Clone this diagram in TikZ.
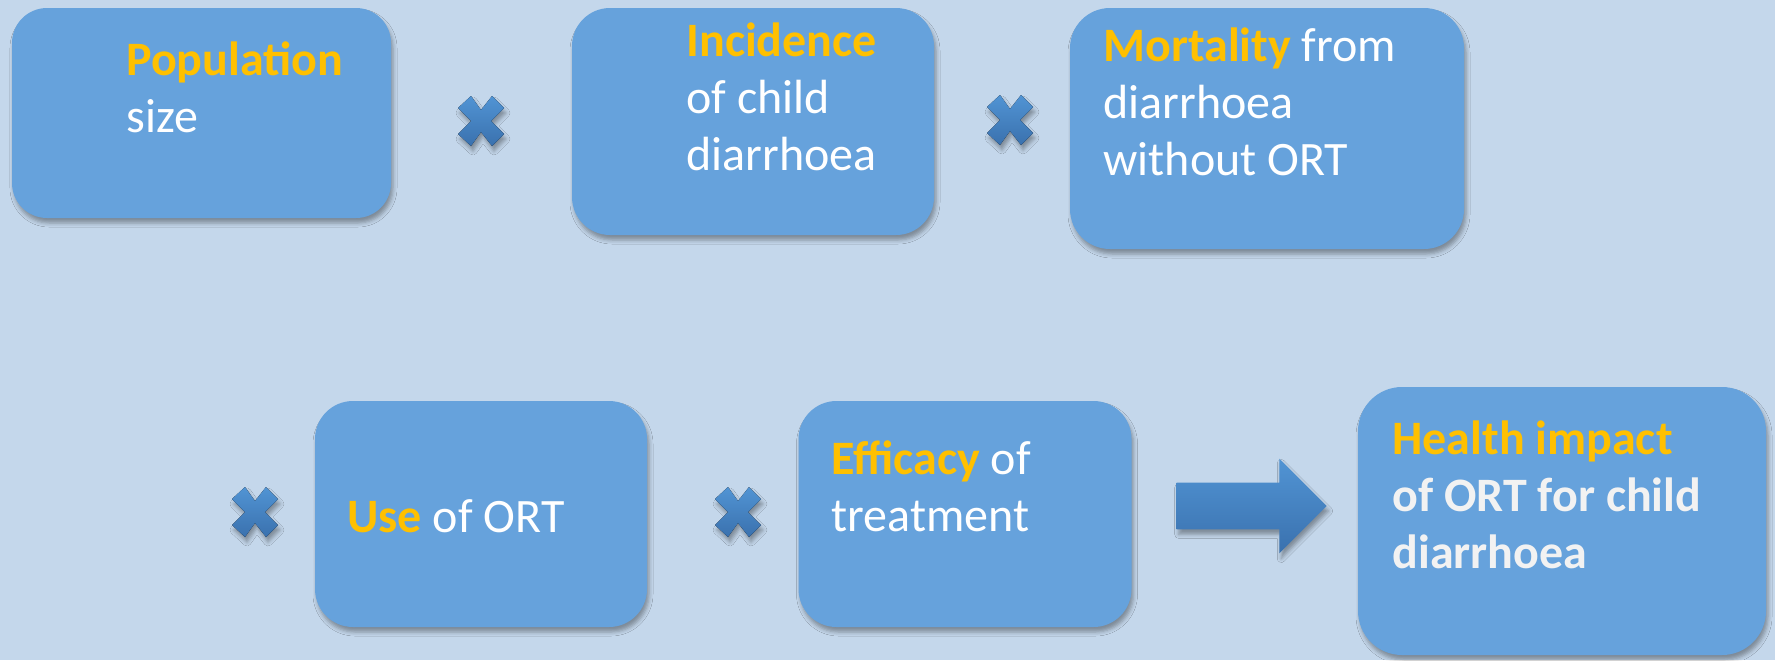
\documentclass[tikz,border=0pt]{standalone}
\usepackage{fontspec}
\setmainfont{Carlito}
\usetikzlibrary{shapes.arrows,shadows.blur}
\definecolor{bg}{HTML}{C4D7EB}
\definecolor{boxblue}{HTML}{66A2DC}
\definecolor{gold}{HTML}{FFC000}
\definecolor{marktop}{HTML}{5194D4}
\definecolor{markbot}{HTML}{3A71AE}
\definecolor{softwhite}{HTML}{F2F2F2}
\newcommand\keyword[1]{\textbf{\textcolor{gold}{#1}}}

\begin{document}
\begin{tikzpicture}[x=0.5pt,y=-0.5pt,
  softshadow/.style={blur shadow={shadow xshift=1pt,shadow yshift=-2.5pt,
      shadow blur radius=2pt,shadow opacity=35}},
  factor/.style={rectangle,fill=boxblue,draw=none,rounded corners=#1,softshadow},
  caption/.style={inner sep=0pt,anchor=base west,align=left,text=white,
      font=\fontsize{24}{28.5}\selectfont},
  times/.pic={
    \fill[top color=marktop,bottom color=markbot,softshadow]
      (-23,-13) -- (-10,-25) -- (0,-11) -- (11,-25) -- (23,-13) -- (10,0)
      -- (23,13) -- (11,25) -- (0,11) -- (-10,25) -- (-23,13) -- (-10,0) -- cycle;
  }]
  % canvas
  \fill[bg] (0,0) rectangle (1775,660);
  \useasboundingbox (0,0) rectangle (1775,660);

  % factor boxes
  \node[factor=17.5pt,minimum width=189.5pt,minimum height=105pt] (pop) at (201.5,113) {};
  \node[factor=19pt,minimum width=181pt,minimum height=113.5pt] (inc) at (753,121.5) {};
  \node[factor=20pt,minimum width=197pt,minimum height=120.5pt] (mort) at (1267,128.5) {};
  \node[factor=19pt,minimum width=166pt,minimum height=113pt] (use) at (481,514) {};
  \node[factor=19pt,minimum width=166.5pt,minimum height=113pt] (eff) at (965,514) {};
  \node[factor=22pt,minimum width=204pt,minimum height=134pt] (impact) at (1562,521) {};

  % box texts (placed by the baseline of their last line)
  \node[caption] (popT) at (126,132) {\keyword{Population}\\size};
  \node[caption] (incT) at (686,170) {\keyword{Incidence}\\of child\\diarrhoea};
  \node[caption] (mortT) at (1103,175) {\keyword{Mortality} from\\diarrhoea\\without ORT};
  \node[caption] (useT) at (347,532) {\keyword{Use} of ORT};
  \node[caption] (effT) at (831,531) {\keyword{Efficacy} of\\treatment};
  \node[caption,text=softwhite,font=\fontsize{24}{28.5}\selectfont\bfseries] (impactT) at (1392,568)
    {\keyword{Health impact}\\of ORT for child\\diarrhoea};

  % multiplication signs
  \pic at (481,121) {times};
  \pic at (1010,120) {times};
  \pic at (255,512) {times};
  \pic at (738,512) {times};

  % result arrow
  \node[single arrow,draw=none,minimum height=75pt,inner xsep=0pt,inner ysep=11.5pt,
        outer sep=0pt,single arrow head extend=12pt,top color=marktop,bottom color=markbot,softshadow]
        (result) at (1240,506) {};
\end{tikzpicture}
\end{document}
